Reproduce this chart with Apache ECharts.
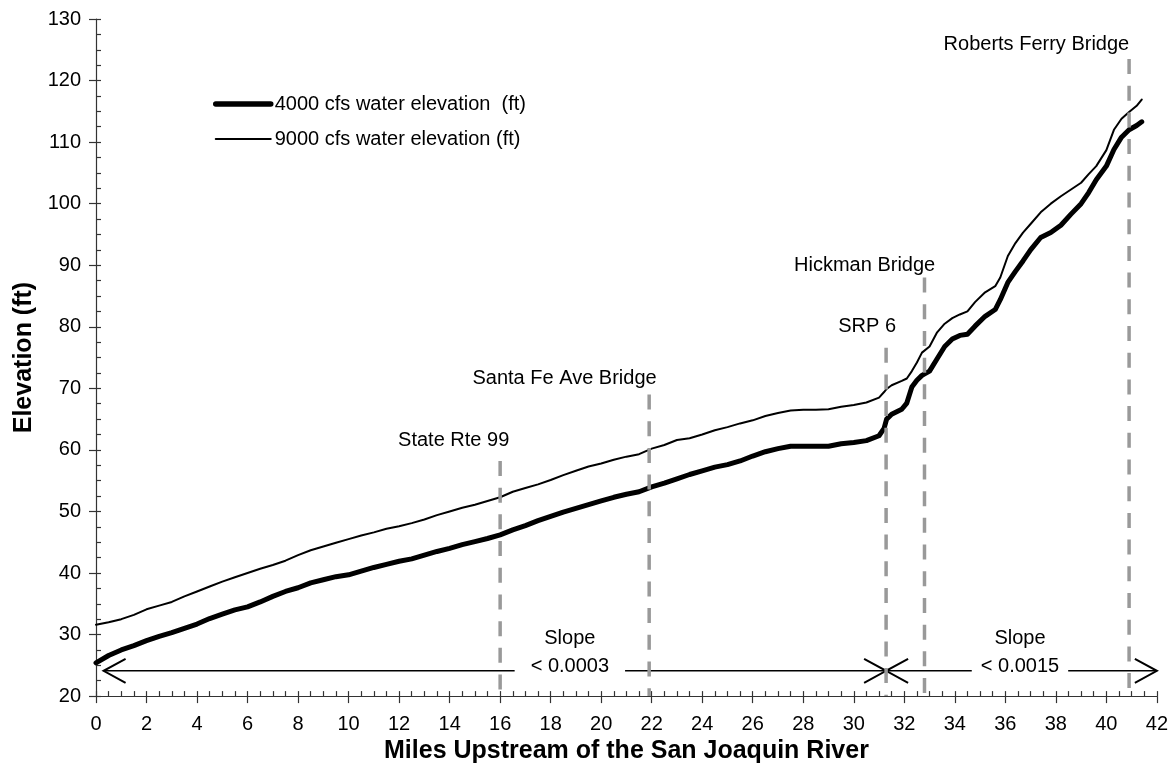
<!DOCTYPE html>
<html>
<head>
<meta charset="utf-8">
<title>Water surface elevation, Stanislaus River</title>
<script src="https://cdn.jsdelivr.net/npm/echarts@6/dist/echarts.min.js"></script>
<style>
  html, body { margin: 0; padding: 0; background: #ffffff; }
  #chart { width: 1171px; height: 769px; }
</style>
</head>
<body>
<div id="chart"></div>
<script>
const FONT = '"Liberation Sans", Arial, Helvetica, sans-serif';

// River mile (upstream of the San Joaquin confluence)
const miles = [
  0, 0.5, 1, 1.5, 2, 2.5, 3, 3.5, 4, 4.5, 5, 5.5, 6, 6.5, 7, 7.5, 8, 8.5, 9, 9.5,
  10, 10.5, 11, 11.5, 12, 12.5, 13, 13.5, 14, 14.5, 15, 15.5, 16, 16.5, 17, 17.5,
  18, 18.5, 19, 19.5, 20, 20.5, 21, 21.5, 22, 22.5, 23, 23.5, 24, 24.5, 25, 25.5,
  26, 26.5, 27, 27.5, 28, 28.5, 29, 29.5, 30, 30.5, 31, 31.2, 31.3, 31.5, 31.9,
  32.1, 32.3, 32.5, 32.7, 33.0, 33.3, 33.6, 33.9, 34.2, 34.5, 34.8, 35.2, 35.6,
  35.8, 36.1, 36.4, 36.7, 37.0, 37.4, 37.8, 38.2, 38.6, 39.0, 39.3, 39.6, 40.0,
  40.3, 40.6, 40.9, 41.2, 41.4
];

// Water surface elevation (ft) at 4000 cfs
const flow4000 = [
  25.4, 26.6, 27.5, 28.2, 29.0, 29.7, 30.3, 31.0, 31.7, 32.6, 33.3, 34.0, 34.5, 35.3, 36.2, 37.0, 37.6, 38.4, 38.9, 39.4,
  39.7, 40.3, 40.9, 41.4, 41.9, 42.3, 42.9, 43.5, 44.0, 44.6, 45.1, 45.6, 46.2, 47.0, 47.7, 48.5,
  49.2, 49.9, 50.5, 51.1, 51.7, 52.3, 52.8, 53.2, 54.0, 54.6, 55.3, 56.0, 56.6, 57.2, 57.6, 58.2,
  59.0, 59.7, 60.2, 60.6, 60.6, 60.6, 60.6, 61.0, 61.2, 61.5, 62.3, 63.5, 65.0, 65.8, 66.6,
  67.6, 70.2, 71.3, 72.1, 72.8, 74.8, 76.8, 78.0, 78.6, 78.8, 80.1, 81.7, 82.8,
  84.4, 87.2, 89.0, 90.7, 92.5, 94.5, 95.3, 96.5, 98.3, 100.0, 101.8, 103.9, 106.1,
  108.8, 110.8, 112.0, 112.7, 113.3
];

// Water surface elevation (ft) at 9000 cfs
const flow9000 = [
  31.6, 32.0, 32.5, 33.2, 34.1, 34.7, 35.3, 36.2, 37.0, 37.8, 38.6, 39.3, 40.0, 40.7, 41.3, 42.0, 42.9, 43.7, 44.3, 44.9,
  45.5, 46.1, 46.6, 47.2, 47.6, 48.1, 48.7, 49.4, 50.0, 50.6, 51.1, 51.7, 52.3, 53.2, 53.8, 54.4,
  55.1, 55.9, 56.6, 57.3, 57.8, 58.4, 58.9, 59.3, 60.2, 60.8, 61.6, 61.9, 62.5, 63.2, 63.7, 64.3,
  64.8, 65.5, 66.0, 66.4, 66.5, 66.5, 66.6, 67.0, 67.3, 67.7, 68.5, 69.4, 69.9, 70.5, 71.2,
  71.6, 72.8, 74.2, 75.8, 76.8, 79.1, 80.5, 81.4, 82.0, 82.5, 84.0, 85.6, 86.6,
  88.0, 91.5, 93.6, 95.3, 96.7, 98.6, 100.0, 101.2, 102.3, 103.4, 104.8, 106.1, 108.7,
  112.0, 113.8, 114.9, 115.9, 116.9
];

// Landmarks along the river: name, river mile, elevation where the marker ends
const landmarkNames = ['State Rte 99', 'Santa Fe Ave Bridge', 'SRP 6', 'Hickman Bridge', 'Roberts Ferry Bridge'];
const landmarkMiles = [16.0, 21.9, 31.28, 32.8, 40.9];
const landmarkTops  = [58.2, 69.0, 76.6, 88.0, 123.5];

// Reaches with their slope
const slopeLabels = ['< 0.0003', '< 0.0015'];
const slopeStart  = [0.3, 31.28];
const slopeEnd    = [31.28, 42];
const arrowElevation = 24.1;

const SERIES_4000 = '4000 cfs water elevation  (ft)';
const SERIES_9000 = '9000 cfs water elevation (ft)';

const chart = echarts.init(document.getElementById('chart'), null, { renderer: 'canvas' });

const pairs = (xs, ys) => xs.map((x, i) => [x, ys[i]]);

const axisColor = '#333';
const labelStyle = { fontFamily: FONT, fontSize: 20, color: '#000' };

function valueAxes(kind) {
  const isX = kind === 'x';
  const base = {
    type: 'value',
    min: isX ? 0 : 20,
    max: isX ? 42 : 130,
    interval: isX ? 2 : 10,
    splitLine: { show: false },
    position: isX ? 'bottom' : 'left',
    axisLine: { onZero: false }
  };
  // outward major ticks with labels
  const main = Object.assign({}, base, {
    axisLine: { show: true, onZero: false, lineStyle: { color: axisColor, width: 1.2 } },
    axisTick: { show: true, inside: false, length: 7, lineStyle: { color: axisColor, width: 1.2 } },
    minorTick: { show: false },
    axisLabel: Object.assign({ margin: isX ? 18 : 15 }, labelStyle),
    name: isX ? 'Miles Upstream of the San Joaquin River' : 'Elevation (ft)',
    nameLocation: 'middle',
    nameGap: isX ? 42 : 58,
    nameTextStyle: { fontFamily: FONT, fontSize: 25, fontWeight: 'bold', color: '#000' }
  });
  // inward major and minor ticks
  const inner = Object.assign({}, base, {
    axisLine: { show: false, onZero: false },
    axisTick: { show: true, inside: true, length: 5, lineStyle: { color: axisColor, width: 1.2 } },
    minorTick: { show: true, splitNumber: 4, length: 5, lineStyle: { color: axisColor, width: 1.2 } },
    axisLabel: { show: false }
  });
  return [main, inner];
}

const xAxes = valueAxes('x');
const yAxes = valueAxes('y');

const landmarkSeries = landmarkNames.map((name, i) => ({
  name: 'marker-' + i,
  type: 'line',
  xAxisIndex: 0,
  yAxisIndex: 0,
  data: [[landmarkMiles[i], landmarkTops[i]], [landmarkMiles[i], 20]],
  showSymbol: false,
  symbol: 'none',
  silent: true,
  z: 5,
  lineStyle: { color: '#999999', width: 3.5, type: [15, 11.7], cap: 'butt' }
}));

chart.setOption({
  animation: false,
  backgroundColor: '#ffffff',
  textStyle: { fontFamily: FONT },
  grid: { left: 96, right: 13, top: 19, bottom: 72, containLabel: false },
  xAxis: xAxes,
  yAxis: yAxes,
  legend: {
    orient: 'vertical',
    left: 213,
    top: 94,
    padding: 0,
    itemWidth: 55,
    itemHeight: 14,
    itemGap: 15,
    selectedMode: false,
    itemStyle: { opacity: 0 },
    textStyle: { fontFamily: FONT, fontSize: 20, color: '#000', padding: [0, 0, 0, -1] },
    data: [
      { name: SERIES_4000, itemStyle: { opacity: 0 }, lineStyle: { width: 5.5, color: '#000', cap: 'round' } },
      { name: SERIES_9000, itemStyle: { opacity: 0 }, lineStyle: { width: 2, color: '#000' } }
    ]
  },
  series: [
    {
      name: SERIES_4000,
      type: 'line',
      data: pairs(miles, flow4000),
      showSymbol: false,
      symbol: 'none',
      smooth: false,
      z: 3,
      itemStyle: { color: '#000' },
      lineStyle: { color: '#000', width: 5, cap: 'round', join: 'round' }
    },
    {
      name: SERIES_9000,
      type: 'line',
      data: pairs(miles, flow9000),
      showSymbol: false,
      symbol: 'none',
      smooth: false,
      z: 3,
      itemStyle: { color: '#000' },
      lineStyle: { color: '#000', width: 2, cap: 'round', join: 'round' }
    }
  ].concat(landmarkSeries)
});

// Annotation layer: landmark names, slope arrows and slope captions
function px(x, y) {
  return chart.convertToPixel({ gridIndex: 0 }, [x, y]);
}

// label centres, in axis units
const landmarkLabelAt = [
  [14.16, 61.5], [18.55, 71.6], [30.53, 80.0], [30.43, 89.9], [37.23, 125.8]
];
const slopeCaptionAt = [18.76, 36.58];
const slopeTitleElev = 29.4;
const slopeValueElev = 24.85;
const slopeValuePad = [16, 9];

const graphics = [];
const textBase = { fontFamily: FONT, fontSize: 20, fill: '#000', textAlign: 'center', textVerticalAlign: 'middle' };

landmarkNames.forEach((name, i) => {
  const p = px(landmarkLabelAt[i][0], landmarkLabelAt[i][1]);
  graphics.push({ type: 'text', x: p[0], y: p[1], z: 10, style: Object.assign({ text: name }, textBase) });
});

const HEAD_DX = 22, HEAD_DY = 12;
function head(tip, dir) {
  // open "V" arrowhead; dir = -1 points left, +1 points right
  return {
    type: 'polyline', z: 1,
    shape: { points: [[tip[0] - dir * HEAD_DX, tip[1] - HEAD_DY], tip, [tip[0] - dir * HEAD_DX, tip[1] + HEAD_DY]] },
    style: { stroke: '#000', lineWidth: 2, fill: null }
  };
}

slopeLabels.forEach((label, i) => {
  const a = px(slopeStart[i], arrowElevation);
  const b = px(slopeEnd[i], arrowElevation);
  graphics.push({
    type: 'line', z: 1,
    shape: { x1: a[0], y1: a[1], x2: b[0], y2: b[1] },
    style: { stroke: '#000', lineWidth: 1.5 }
  });
  graphics.push(head(a, -1));
  graphics.push(head(b, 1));
  const t = px(slopeCaptionAt[i], slopeTitleElev);
  graphics.push({ type: 'text', x: t[0], y: t[1], z: 2, style: Object.assign({ text: 'Slope' }, textBase) });
  const v = px(slopeCaptionAt[i], slopeValueElev);
  graphics.push({
    type: 'text', x: v[0], y: v[1], z: 2,
    style: Object.assign({ text: label, backgroundColor: '#ffffff', padding: [2, slopeValuePad[i], 2, slopeValuePad[i]] }, textBase)
  });
});

chart.setOption({ graphic: { elements: graphics } });
</script>
</body>
</html>
